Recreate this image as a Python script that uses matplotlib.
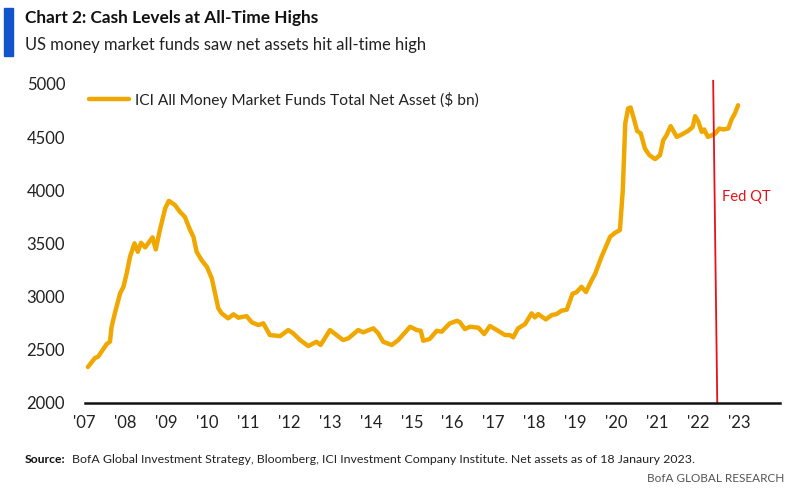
import numpy as np
import matplotlib
matplotlib.use("Agg")
import matplotlib.pyplot as plt
from matplotlib.patches import Rectangle

# ICI money market fund total net assets ($ bn)
years = [2007.08, 2007.25, 2007.33, 2007.54, 2007.62, 2007.66, 2007.74, 2007.87, 2007.95,
         2008.03, 2008.11, 2008.22, 2008.30, 2008.38, 2008.48, 2008.66, 2008.74, 2008.84, 2008.97,
         2009.06, 2009.21, 2009.33, 2009.45, 2009.58, 2009.66, 2009.74, 2009.86, 2009.99,
         2010.11, 2010.19, 2010.27, 2010.35, 2010.51, 2010.64, 2010.76, 2010.96,
         2011.09, 2011.25, 2011.37, 2011.53, 2011.78, 2011.98,
         2012.10, 2012.27, 2012.47, 2012.67, 2012.77,
         2013.00, 2013.16, 2013.32, 2013.45, 2013.69, 2013.81,
         2014.06, 2014.18, 2014.30, 2014.51, 2014.67, 2014.96,
         2015.12, 2015.22, 2015.28, 2015.44, 2015.61, 2015.73, 2015.93,
         2016.11, 2016.18, 2016.30, 2016.42, 2016.63, 2016.77, 2016.91,
         2017.08, 2017.28, 2017.40, 2017.48, 2017.60, 2017.77, 2017.93,
         2018.01, 2018.09, 2018.28, 2018.42, 2018.54, 2018.66, 2018.79, 2018.93,
         2019.03, 2019.15, 2019.26, 2019.40, 2019.48, 2019.64, 2019.85, 2019.97,
         2020.09, 2020.16, 2020.22, 2020.29, 2020.35, 2020.43, 2020.51, 2020.60, 2020.70, 2020.81, 2020.95,
         2021.07, 2021.15, 2021.23, 2021.33, 2021.48, 2021.57, 2021.76, 2021.87, 2021.93,
         2022.01, 2022.09, 2022.15, 2022.24, 2022.34, 2022.42, 2022.52, 2022.62, 2022.74, 2022.82, 2022.90,
         2022.98]
assets = [2336, 2420, 2433, 2552, 2574, 2715, 2843, 3032, 3091,
          3220, 3373, 3500, 3420, 3505, 3462, 3556, 3443, 3625, 3829,
          3900, 3860, 3797, 3750, 3625, 3562, 3420, 3342, 3279,
          3170, 3029, 2888, 2841, 2794, 2832, 2800, 2815,
          2756, 2731, 2747, 2637, 2627, 2684,
          2653, 2590, 2533, 2574, 2543,
          2684, 2637, 2590, 2606, 2684, 2662,
          2700, 2653, 2574, 2543, 2590, 2715,
          2684, 2677, 2583, 2600, 2677, 2668, 2747,
          2771, 2756, 2693, 2715, 2706, 2646, 2722,
          2684, 2637, 2637, 2615, 2700, 2740, 2841,
          2803, 2834, 2784, 2825, 2834, 2866, 2875, 3025,
          3040, 3091, 3042, 3154, 3210, 3373, 3562, 3599,
          3625, 4001, 4628, 4770, 4779, 4675, 4559, 4534, 4393, 4330, 4293,
          4330, 4471, 4518, 4603, 4502, 4518, 4559, 4596, 4697,
          4643, 4549, 4572, 4502, 4518, 4534, 4581, 4572, 4581, 4666, 4722,
          4800]

tick_years = list(range(2007, 2024))
tick_labels = ["'%02d" % (y % 100) for y in tick_years]
y_ticks = [2000, 2500, 3000, 3500, 4000, 4500, 5000]

qt_x = [2022.37, 2022.47]   # Fed QT marker (slightly slanted in the original)
qt_y = [5030, 2000]

plt.rcParams['font.family'] = ['Lato', 'DejaVu Sans']

fig = plt.figure(figsize=(7.99, 4.94), dpi=100)
ax = fig.add_axes([0.1059, 0.1848, 0.8701, 0.6452])

gold = '#f0a800'
ax.plot(years, assets, color=gold, lw=3.2, solid_capstyle='round',
        label='ICI All Money Market Funds Total Net Asset ($ bn)')
ax.plot(qt_x, qt_y, color='#e8101a', lw=1.3, clip_on=False)
ax.text(2022.58, 3935, 'Fed QT', color='#e8101a', fontsize=10.6, va='center')

ax.set_xlim(2007, 2024)
ax.set_ylim(2000, 5000)
ax.set_xticks(tick_years)
ax.set_xticklabels(tick_labels)
ax.set_yticks(y_ticks)
ax.tick_params(axis='both', length=0, labelsize=12, colors='#222222')
ax.tick_params(axis='y', pad=14)
ax.tick_params(axis='x', pad=9)
for s in ['top', 'right', 'left']:
    ax.spines[s].set_visible(False)
ax.spines['bottom'].set_linewidth(1.8)
ax.spines['bottom'].set_color('#111111')

leg = ax.legend(loc='upper left', bbox_to_anchor=(-0.003, 0.995), frameon=False,
                fontsize=11.2, handlelength=2.6, handletextpad=0.35, borderaxespad=0)
for t in leg.get_texts():
    t.set_color('#222222')

# header
fig.patches.append(Rectangle((4 / 799, 1 - 56 / 494), 9 / 799, 48 / 494,
                             transform=fig.transFigure, color='#1155cc'))
fig.text(25 / 799, 1 - 18 / 494, 'Chart 2: Cash Levels at All-Time Highs',
         fontsize=12.4, fontweight='bold', va='center', color='#111111')
fig.text(25 / 799, 1 - 45 / 494, 'US money market funds saw net assets hit all-time high',
         fontsize=11.9, va='center', color='#222222')

# footer
fig.text(25 / 799, 1 - 459 / 494, 'Source:', fontsize=8.7, fontweight='bold',
         va='center', color='#111111')
fig.text(72 / 799, 1 - 459 / 494,
         'BofA Global Investment Strategy, Bloomberg, ICI Investment Company Institute. '
         'Net assets as of 18 Janaury 2023.',
         fontsize=8.9, va='center', color='#222222')
fig.text(784 / 799, 1 - 478 / 494, 'BofA GLOBAL RESEARCH', fontsize=8.5, ha='right',
         va='center', color='#555555')

fig.savefig('out.png', dpi=100)
